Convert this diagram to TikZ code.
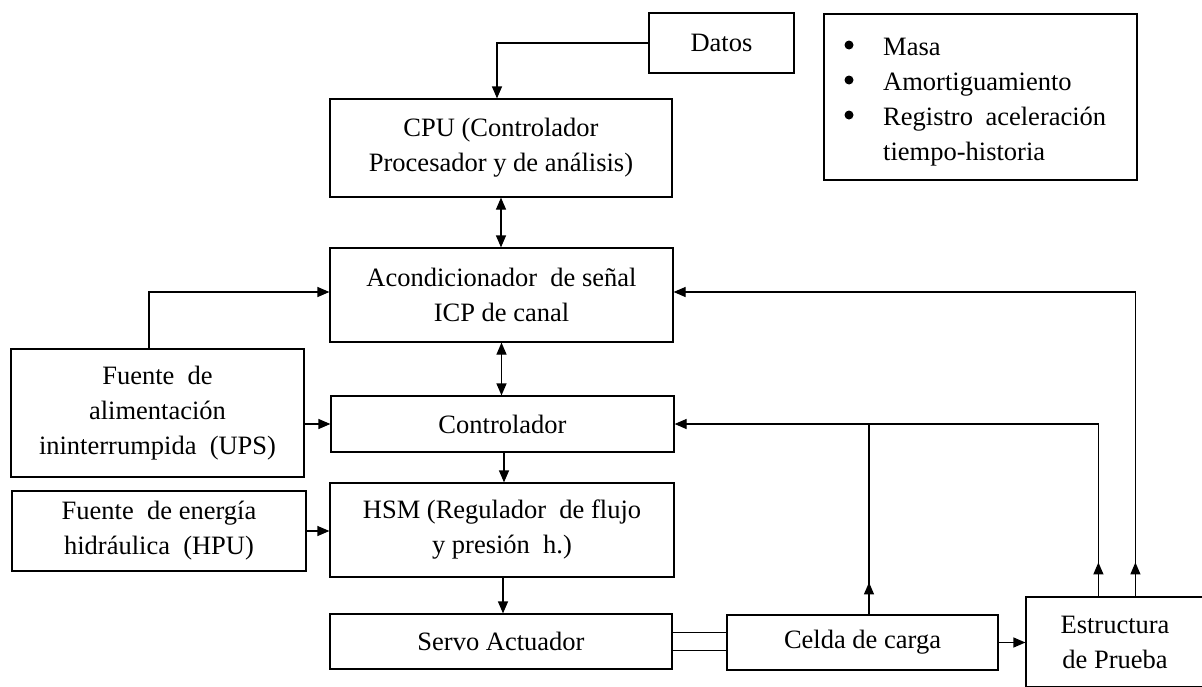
\documentclass[tikz,border=0pt]{standalone}
\usepackage{fontspec}
\setmainfont{Liberation Serif}
\usetikzlibrary{arrows.meta,calc}
\begin{document}
\begin{tikzpicture}[x=1pt,y=-1pt,
  box/.style={draw=black, line width=1.2pt, align=center, inner sep=0pt,
    font=\fontsize{26.5}{35}\selectfont},
  lnk/.style={draw=black, line width=1.2pt},
  arr/.style={lnk, -{Triangle[length=12pt,width=10pt]}},
  darr/.style={lnk, {Triangle[length=12pt,width=10pt]}-{Triangle[length=12pt,width=10pt]}},
  bul/.style={fill=black},
]
\clip (0,0) rectangle (1202,686);
\fill[white] (0,0) rectangle (1202,686);

% boxes
\node[box, minimum width=145pt, minimum height=60pt] (datos) at (721.5,43) {Datos};
\node[box, minimum width=313pt, minimum height=166pt] (legend) at (980.5,97) {};
\node[anchor=north west, inner sep=0pt, font=\fontsize{26.5}{35}\selectfont] (legendtext) at (883,30.5)
  {\begin{tabular}{@{}l@{}}
   Masa\\
   Amortiguamiento\\
   \makebox[223pt][s]{Registro aceleración}\\
   tiempo-historia
   \end{tabular}};
\fill[bul] (849,45) circle (4.5);
\fill[bul] (849,80) circle (4.5);
\fill[bul] (849,115) circle (4.5);

\node[box, minimum width=342pt, minimum height=98pt] (cpu) at (501,148) {CPU (Controlador\\Procesador y de análisis)};
\node[box, minimum width=343pt, minimum height=94pt] (acond) at (501.5,295) {Acondicionador\ \ de señal\\ICP de canal};
\node[box, minimum width=293pt, minimum height=128pt] (ups) at (157.5,413) {Fuente\ \ de\\alimentación\\ininterrumpida\ \ (UPS)};
\node[box, minimum width=343pt, minimum height=56pt] (ctrl) at (502.5,424) {Controlador};
\node[box, minimum width=294pt, minimum height=80pt] (hpu) at (159,531) {Fuente\ \ de energía\\hidráulica\ \ (HPU)};
\node[box, minimum width=344pt, minimum height=94pt] (hsm) at (502,530) {HSM (Regulador\ \ de flujo\\y presión\ \ h.)};
\node[box, minimum width=342pt, minimum height=55pt] (servo) at (501,641.5) {Servo Actuador};
\node[box, minimum width=271pt, minimum height=55pt] (celda) at (862.5,642.5) {Celda de carga};
\node[box, minimum width=178pt, minimum height=90pt] (estr) at (1115,642) {Estructura\\de Prueba};

% connectors
\draw[arr] (datos.west) -| ([xshift=-4pt]cpu.north);
\draw[darr] (cpu.south) -- (cpu.south |- acond.north);
\draw[darr] (acond.south) -- (acond.south |- ctrl.north);
\draw[arr] ([xshift=1.5pt]ctrl.south) -- ([xshift=1.5pt]ctrl.south |- hsm.north);
\draw[arr] ([xshift=1pt]hsm.south) -- ([xshift=1pt]hsm.south |- servo.north);
\draw[arr] (ups.east |- ctrl.west) -- (ctrl.west);
\draw[arr] ([xshift=-8.5pt]ups.north) |- ([yshift=3pt]acond.west);
\draw[arr] (hpu.east) -- (hpu.east -| hsm.west);
\draw[lnk] ([yshift=9pt]servo.east) -- ([yshift=9pt]servo.east -| celda.west);
\draw[lnk] ([yshift=-9pt]servo.east) -- ([yshift=-9pt]servo.east -| celda.west);
\draw[arr] (celda.east) -- (celda.east -| estr.west);

\coordinate (c1) at ([xshift=6.5pt]celda.north);
\coordinate (e1) at ([xshift=73pt]estr.north west);
\coordinate (e2) at ([xshift=110pt]estr.north west);
\draw[lnk] (c1) -- (c1 |- ctrl.east);
\draw[arr] (c1) -- ++(0,-32);
\draw[arr] (e1) |- (ctrl.east);
\draw[arr] (e1) -- ++(0,-34);
\draw[arr] (e2) |- ([yshift=3pt]acond.east);
\draw[arr] (e2) -- ++(0,-34);
\end{tikzpicture}
\end{document}
